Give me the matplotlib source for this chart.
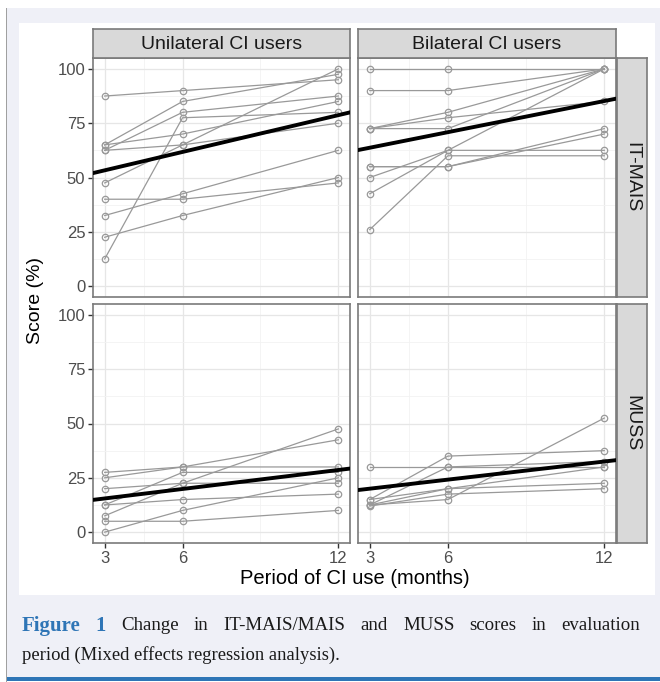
import numpy as np
import matplotlib.pyplot as plt
from matplotlib.patches import Rectangle

# figure size in pixels
W, H = 660, 682

months = [3, 6, 12]
col_labels = ['Unilateral CI users', 'Bilateral CI users']
row_labels = ['IT-MAIS', 'MUSS']

# individual patient scores (%) at 3, 6, 12 months
uni_itmais = [
    [87.5, 90, 95],
    [65, 85, 97.5],
    [12.5, 77.5, 80],
    [47.5, 65, 100],
    [65, 70, 85],
    [62.5, 65, 75],
    [62.5, 80, 87.5],
    [40, 40, 47.5],
    [32.5, 42.5, 62.5],
    [22.5, 32.5, 50],
]
bi_itmais = [
    [100, 100, 100],
    [90, 90, 100],
    [72.5, 80, 100],
    [72.5, 72.5, 100],
    [42.5, 62.5, 100],
    [26, 60, 60],
    [50, 62.5, 62.5],
    [55, 55, 72.5],
    [55, 55, 70],
    [72.5, 77.5, 85],
]
uni_muss = [
    [27.5, 30, 42.5],
    [25, 30, 30],
    [12.5, 27.5, 27.5],
    [7.5, 22.5, 47.5],
    [20, 22.5, 22.5],
    [12.5, 15, 17.5],
    [5, 5, 10],
    [0, 10, 25],
]
bi_muss = [
    [30, 30, 30],
    [15, 35, 37.5],
    [12.5, 30, 32.5],
    [12.5, 15, 52.5],
    [12.5, 20, 22.5],
    [12, 17.5, 20],
    [15, 20, 30],
]

# mixed effects fit, value at 3 and 12 months
fit_months = [3, 12]
uni_itmais_fit = [53.3, 78.7]
bi_itmais_fit = [63.7, 85.2]
uni_muss_fit = [15.5, 28.6]
bi_muss_fit = [20.0, 32.5]

panels = [
    [(uni_itmais, uni_itmais_fit), (bi_itmais, bi_itmais_fit)],
    [(uni_muss, uni_muss_fit), (bi_muss, bi_muss_fit)],
]

plt.rcParams['font.family'] = ['Liberation Sans', 'DejaVu Sans']

fig = plt.figure(figsize=(W / 100, H / 100), dpi=100)
fig.patch.set_facecolor('white')


def px_rect(x0, y0, x1, y1, **kw):
    fig.patches.append(Rectangle((x0 / W, 1 - y1 / H), (x1 - x0) / W, (y1 - y0) / H,
                                 transform=fig.transFigure, **kw))


def px_box(x0, y0, x1, y1):
    return [x0 / W, 1 - y1 / H, (x1 - x0) / W, (y1 - y0) / H]


#page background, frame and caption bar (below the axes)
px_rect(7, 8, 660, 678, facecolor='#eff0f7', edgecolor='none', zorder=-10)
px_rect(5.5, 8, 7, 682, facecolor='#a0a0a0', edgecolor='none', zorder=-9)
px_rect(19, 23, 655, 595, facecolor='white', edgecolor='none', zorder=-9)
px_rect(7, 677, 660, 681, facecolor='#2e75b6', edgecolor='none', zorder=-9)

col_x = [(93, 350), (358, 616)]
row_y = [(58, 297), (304, 543)]

for r in range(2):
    for c in range(2):
        x0, x1 = col_x[c]
        y0, y1 = row_y[r]
        ax = fig.add_axes(px_box(x0, y0, x1, y1))
        data, fit = panels[r][c]

        ax.set_xlim(2.55, 12.45)
        ax.set_ylim(-5, 105)
        ax.set_xticks(months)
        ax.set_xticks([4.5, 9], minor=True)
        ax.set_yticks([0, 25, 50, 75, 100])
        ax.set_yticks([12.5, 37.5, 62.5, 87.5], minor=True)
        ax.grid(True, which='major', color='#e6e6e6', lw=0.9)
        ax.grid(True, which='minor', color='#f2f2f2', lw=0.6)
        ax.set_axisbelow(True)

        for s in data:
            ax.plot(months, s, color='#999999', lw=0.9, marker='o', ms=4.6,
                    mfc='none', mec='#999999', mew=0.9, zorder=2)
        ax.axline((fit_months[0], fit[0]), (fit_months[1], fit[1]),
                  color='black', lw=2.8, zorder=3)

        for sp in ax.spines.values():
            sp.set_color('#7a7a7a')
            sp.set_linewidth(1.2)

        ax.tick_params(which='minor', length=0)
        ax.tick_params(which='major', length=3.5, width=1, color='#333333',
                       labelcolor='#4d4d4d', labelsize=12, pad=2)
        if c == 0:
            ax.set_yticklabels(['0', '25', '50', '75', '100'])
        else:
            ax.tick_params(axis='y', left=False, labelleft=False)
        if r == 1:
            ax.set_xticklabels(['3', '6', '12'])
        else:
            ax.tick_params(axis='x', bottom=False, labelbottom=False)

        #column strips on top
        if r == 0:
            sx = fig.add_axes(px_box(x0, 29, x1, 58))
            sx.set_facecolor('#d9d9d9')
            sx.set_xticks([])
            sx.set_yticks([])
            for sp in sx.spines.values():
                sp.set_color('#7a7a7a')
                sp.set_linewidth(1.2)
            sx.text(0.5, 0.47, col_labels[c], ha='center', va='center',
                    fontsize=14, color='#1a1a1a', transform=sx.transAxes)

        #row strips on the right
        if c == 1:
            sy = fig.add_axes(px_box(617, y0, 647, y1))
            sy.set_facecolor('#d9d9d9')
            sy.set_xticks([])
            sy.set_yticks([])
            for sp in sy.spines.values():
                sp.set_color('#7a7a7a')
                sp.set_linewidth(1.2)
            sy.text(0.5, 0.5, row_labels[r], ha='center', va='center',
                    rotation=-90, fontsize=14, color='#1a1a1a', transform=sy.transAxes)

fig.text(36 / W, 1 - 300 / H, 'Score (%)', rotation=90, ha='center', va='center',
         fontsize=14, color='black')
fig.text(354.5 / W, 1 - 578 / H, 'Period of CI use (months)', ha='center', va='center',
         fontsize=14.5, color='black')

#caption, first line justified
serif = ['Liberation Serif', 'DejaVu Serif']
line1 = ['Figure', '1', 'Change', 'in', 'IT-MAIS/MAIS', 'and', 'MUSS', 'scores', 'in', 'evaluation']
texts = []
for i, w in enumerate(line1):
    bold = i < 2
    t = fig.text(0, 1 - 626 / H, w, ha='left', va='center', family=serif,
                 fontsize=15 if bold else 13.6,
                 color='#2e75b6' if bold else '#1a1a1a', weight='bold' if bold else 'normal')
    texts.append(t)
renderer = fig.canvas.get_renderer()
widths = [t.get_window_extent(renderer).width for t in texts]
left, right = 22, 640
gap = (right - left - sum(widths)) / (len(widths) - 1)
x = left
for t, w in zip(texts, widths):
    t.set_x(x / W)
    x += w + gap
fig.text(22 / W, 1 - 655 / H, 'period (Mixed effects regression analysis).', ha='left',
         va='center', family=serif, fontsize=13.4, color='#1a1a1a')

fig.savefig('out.png', dpi=100)
